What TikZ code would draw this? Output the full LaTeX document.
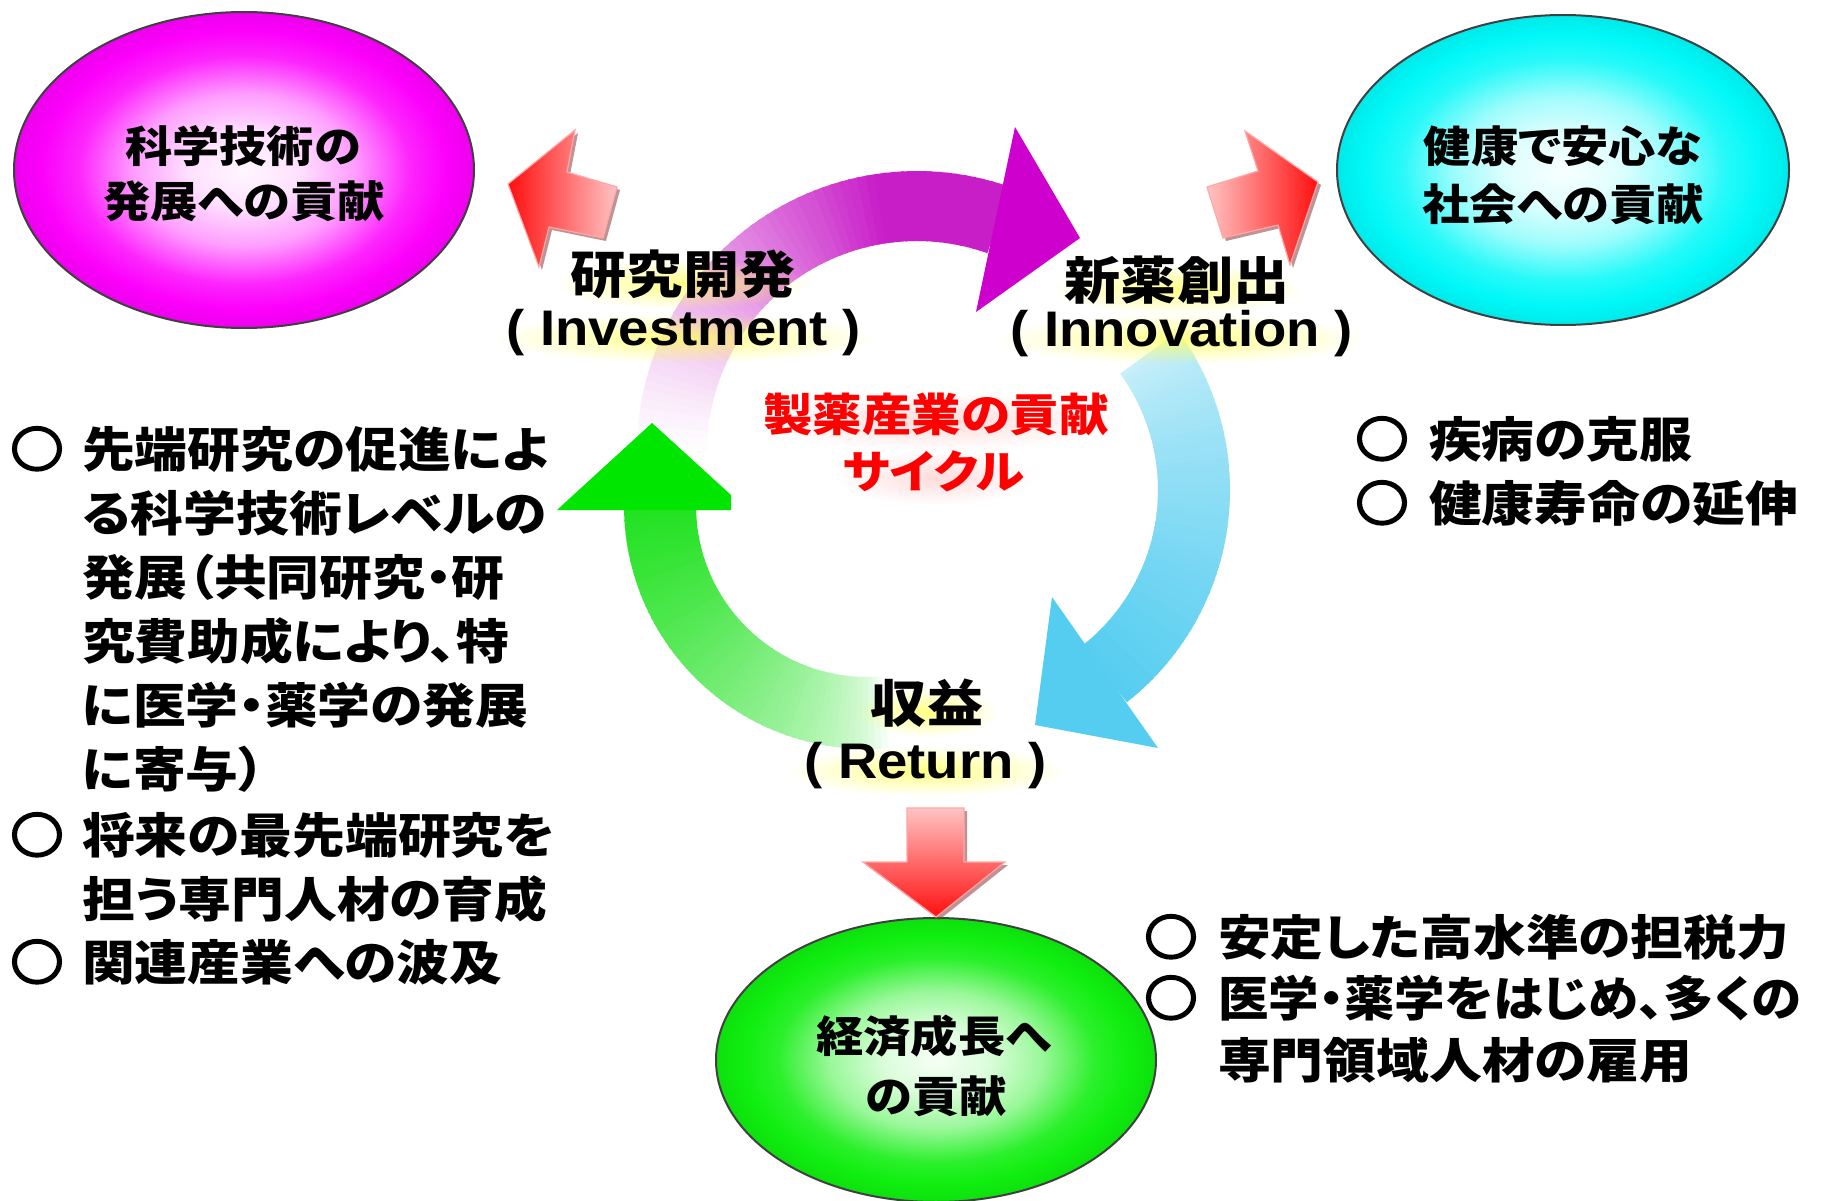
\documentclass[tikz,border=0pt]{standalone}
\usepackage{fontspec}
\newfontfamily\jp{Noto Sans CJK JP}[FakeStretch=1.1,RawFeature=+palt]
\newfontfamily\lat{Liberation Sans}[FakeStretch=1.09]
\usetikzlibrary{shapes.geometric,fadings}
\definecolor{magE}{RGB}{252,0,252}
\definecolor{cyaE}{RGB}{0,248,248}
\definecolor{grnE}{RGB}{15,238,15}
\definecolor{magA}{RGB}{200,30,200}
\definecolor{magH}{RGB}{205,0,205}
\definecolor{bluA}{RGB}{85,205,240}
\definecolor{grnA}{RGB}{30,225,30}
\definecolor{grnH}{RGB}{0,230,0}
\definecolor{arRed}{RGB}{255,15,15}
\definecolor{arPink}{RGB}{255,195,195}
\definecolor{arShd}{RGB}{140,60,60}
\definecolor{glowc}{RGB}{255,255,90}
\definecolor{txtRed}{RGB}{255,0,0}
\pgfdeclareradialshading{shmag}{\pgfpointorigin}{color(0bp)=(white!97!magE); color(6bp)=(white!88!magE); color(12bp)=(white!62!magE); color(18bp)=(white!15!magE); color(22bp)=(magE); color(25bp)=(magE!94!black); color(50bp)=(magE!94!black)}
\pgfdeclareradialshading{shcya}{\pgfpointorigin}{color(0bp)=(white!97!cyaE); color(6bp)=(white!88!cyaE); color(12bp)=(white!62!cyaE); color(18bp)=(white!15!cyaE); color(22bp)=(cyaE); color(25bp)=(cyaE!94!black); color(50bp)=(cyaE!94!black)}
\pgfdeclareradialshading{shgrn}{\pgfpointorigin}{color(0bp)=(white!96!grnE); color(6bp)=(white!85!grnE); color(12bp)=(white!58!grnE); color(18bp)=(white!12!grnE); color(22bp)=(grnE); color(25bp)=(grnE!94!black); color(50bp)=(grnE!94!black)}
\tikzfading[name=glowfade,inner color=transparent!0,outer color=transparent!100]
\newcommand\ringband[8]{%
  \foreach \k in {0,...,59}{%
    \pgfmathsetmacro\angA{#5+(#6-#5)*\k/60}%
    \pgfmathsetmacro\angB{#5+(#6-#5)*(\k+1.3)/60}%
    \pgfmathsetmacro\bandt{(\k+0.5)/60}%
    \pgfmathtruncatemacro\pc{#8}%
    \fill[#7!\pc!white] ([shift={(#1,#2)}]\angA:#4) -- ([shift={(#1,#2)}]\angB:#4) -- ([shift={(#1,#2)}]\angB:#3) -- ([shift={(#1,#2)}]\angA:#3) -- cycle;
  }%
}
% #1 name, #2 x, #3 y, #4 half width, #5 style, #6 text
\newcommand\glowlabel[6]{%
  \fill[glowc,opacity=0.75,path fading=glowfade] (#2-#4-14,#3-16) rectangle (#2+#4+14,#3+34);
  \node[#5] (#1) at (#2,#3) {#6};
}
\newcommand\ring{\special{pdf:literal direct 2 Tr 2.6 w}○\special{pdf:literal direct 0 Tr}}
\tikzset{
  every node/.style={inner sep=0pt,outer sep=0pt},
  bultxt/.style={anchor=west,font=\jp\bfseries\fontsize{48}{58}\selectfont,text height=40pt,text depth=4pt},
  bulmark/.style={font=\jp\bfseries\fontsize{48}{58}\selectfont,text height=40pt,text depth=4pt},
  elltxt/.style={font=\jp\bfseries\fontsize{43}{50}\selectfont,text height=36pt,text depth=4pt},
  lbljp/.style={font=\jp\bfseries\fontsize{51}{60}\selectfont,text height=42pt,text depth=4pt},
  lbllat/.style={font=\lat\bfseries\fontsize{50}{60}\selectfont,text height=36pt,text depth=4pt},
  redtxt/.style={font=\jp\bfseries\fontsize{45}{55}\selectfont,text height=37pt,text depth=4pt,text=txtRed},
  ellbox/.style={ellipse,draw=black!75,line width=2pt},
  arrline/.style={draw=red!35!white,line width=1.2pt}
}
\begin{document}
\begin{tikzpicture}[x=1pt,y=-1pt]
\useasboundingbox (0,0) rectangle (1821,1201);
\fill[white] (0,0) rectangle (1821,1201);

% ellipses
\node[ellbox,shading=shmag,minimum width=460pt,minimum height=316pt] (magell) at (244,170) {};
\node[ellbox,shading=shcya,minimum width=452pt,minimum height=310pt] (cyaell) at (1563,170) {};
\node[ellbox,shading=shgrn,minimum width=440pt,minimum height=284pt] (grnell) at (936,1060) {};
\node[elltxt] (magt1) at (243,147) {科学技術の};
\node[elltxt] (magt2) at (244,202) {発展への貢献};
\node[elltxt] (cyat1) at (1563,147) {健康で安心な};
\node[elltxt] (cyat2) at (1563,205) {社会への貢献};
\node[elltxt] (grnt1) at (934,1036) {経済成長へ};
\node[elltxt] (grnt2) at (936,1096) {の貢献};

% cycle bands
\ringband{917}{451}{210}{280}{178}{289}{magA}{100*min(1,\bandt/0.75)^1.3}
\ringband{960}{490}{198}{270}{-36}{51.4}{bluA}{30+70*\bandt^0.7}
\ringband{867}{506}{171}{243}{85}{181}{grnA}{100*\bandt^0.6}
% heads
\fill[magH] (1015,127) -- (1080,238) -- (976,312) -- cycle;
\fill[bluA] (1052,597) -- (1035,725) -- (1158,748) -- cycle;
\fill[grnH] (652,423) -- (557,510) -- (731,510) -- (731,495) -- cycle;

% red block arrows
\begin{scope}[shift={(3,3)}]
\fill[arShd,opacity=0.55] (508,184) -- (575,130) -- (567,172) -- (617,187) -- (603,238) -- (549,227) -- (539,267) -- cycle;
\fill[arShd,opacity=0.55] (1318,182) -- (1245,131) -- (1258,171) -- (1207,187) -- (1223,238) -- (1278,225) -- (1290,265) -- cycle;
\fill[arShd,opacity=0.55] (907,808) -- (964,808) -- (964,862) -- (1005,862) -- (936,917) -- (863,862) -- (907,862) -- cycle;
\end{scope}
\path[arrline,left color=arRed,right color=arPink] (508,184) -- (575,130) -- (567,172) -- (617,187) -- (603,238) -- (549,227) -- (539,267) -- cycle;
\path[arrline,left color=arPink,right color=arRed] (1318,182) -- (1245,131) -- (1258,171) -- (1207,187) -- (1223,238) -- (1278,225) -- (1290,265) -- cycle;
\path[arrline,top color=arPink,bottom color=arRed] (907,808) -- (964,808) -- (964,862) -- (1005,862) -- (936,917) -- (863,862) -- (907,862) -- cycle;

% cycle labels
\glowlabel{labA}{683}{275}{113}{lbljp}{研究開発}
\glowlabel{labB}{684}{329}{178}{lbllat}{( Investment )}
\glowlabel{labC}{1177}{280}{112}{lbljp}{新薬創出}
\glowlabel{labD}{1182}{330}{170}{lbllat}{( Innovation )}
\glowlabel{labE}{927}{703}{57}{lbljp}{収益}
\glowlabel{labF}{926}{762}{125}{lbllat}{( Return )}

% centre title
\fill[txtRed!40!white,opacity=0.35,path fading=glowfade] (750,392) rectangle (1125,450);
\fill[txtRed!40!white,opacity=0.35,path fading=glowfade] (835,450) rectangle (1035,505);
\node[redtxt] (ctr1) at (936,415) {製薬産業の貢献};
\node[redtxt] (ctr2) at (934,472) {サイクル};

% left bullets
\node[bulmark] (lb1) at (37,449) {\ring};
\node[bultxt] (lt1) at (82,449) {先端研究の促進によ};
\node[bultxt] (lt2) at (82,513) {る科学技術レベルの};
\node[bultxt] (lt3) at (82,577) {発展（共同研究・研};
\node[bultxt] (lt4) at (82,641) {究費助成により、特};
\node[bultxt] (lt5) at (82,705) {に医学・薬学の発展};
\node[bultxt] (lt6) at (82,769) {に寄与）};
\node[bulmark] (lb2) at (37,835) {\ring};
\node[bultxt] (lt7) at (82,835) {将来の最先端研究を};
\node[bultxt] (lt8) at (82,899) {担う専門人材の育成};
\node[bulmark] (lb3) at (37,962) {\ring};
\node[bultxt] (lt9) at (82,962) {関連産業への波及};

% right bullets
\node[bulmark] (rb1) at (1382,439) {\ring};
\node[bultxt] (rt1) at (1429,439) {疾病の克服};
\node[bulmark] (rb2) at (1382,503) {\ring};
\node[bultxt] (rt2) at (1429,503) {健康寿命の延伸};

% bottom right bullets
\node[bulmark] (bb1) at (1171,937) {\ring};
\node[bultxt] (bt1) at (1218,937) {安定した高水準の担税力};
\node[bulmark] (bb2) at (1171,998) {\ring};
\node[bultxt] (bt2) at (1218,998) {\scalebox{0.955}[1]{医学・薬学をはじめ、多くの}};
\node[bultxt] (bt3) at (1218,1060) {専門領域人材の雇用};
\end{tikzpicture}
\end{document}
